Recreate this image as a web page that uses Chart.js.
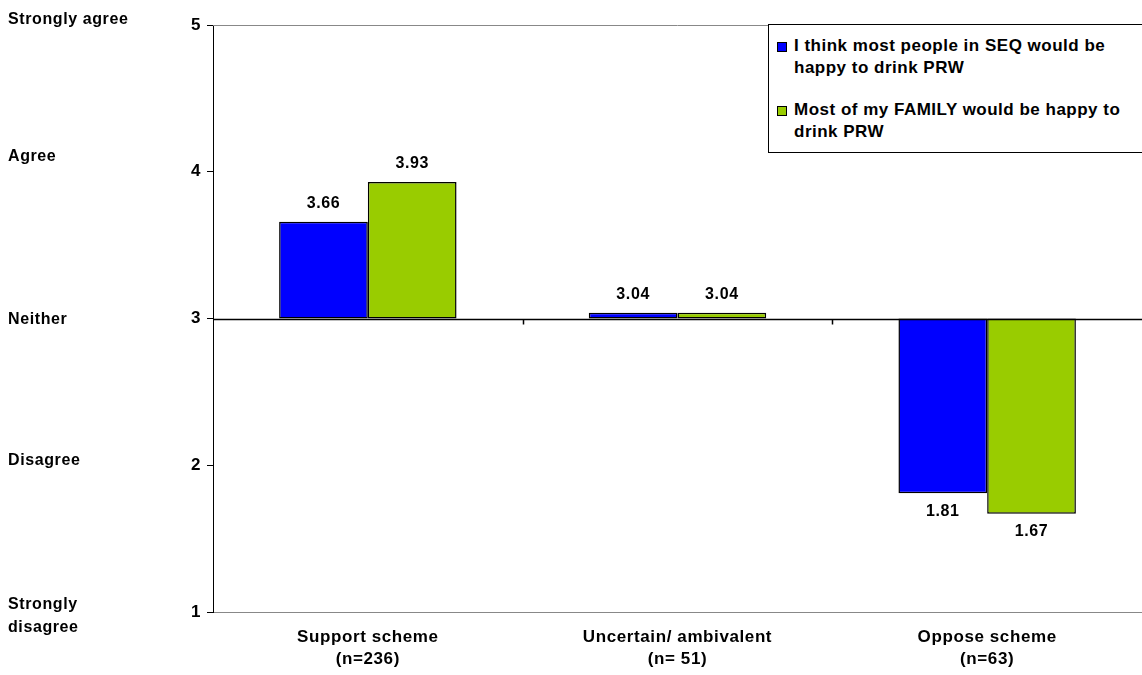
<!DOCTYPE html>
<html>
<head>
<meta charset="utf-8">
<script src="https://cdn.jsdelivr.net/npm/chart.js@4.4.1/dist/chart.umd.min.js"></script>
<style>
    html, body { margin: 0; padding: 0; background: #fff; }
    #wrap { position: relative; width: 1142px; height: 675px; overflow: hidden; }
    #legend {
        position: absolute; left: 768px; top: 24px; width: 400px; height: 129px;
        border: 1px solid #000; background: #fff; box-sizing: border-box;
        font: bold 17px "Liberation Sans", Arial, sans-serif; letter-spacing: 0.5px; color: #000;
    }
    .item { position: absolute; left: 8px; line-height: 22px; padding-left: 17px; width: 345px; }
    .item i {
        position: absolute; left: 0; top: 7px; width: 8px; height: 8px;
        border: 1px solid #000;
    }
</style>
</head>
<body>
<div id="wrap">
    <canvas id="chart" width="1142" height="675"></canvas>
    <div id="legend"></div>
</div>
<script>
const categories  = [["Support scheme", "(n=236)"], ["Uncertain/ ambivalent", "(n= 51)"], ["Oppose scheme", "(n=63)"]];
const seriesNames = ["I think most people in SEQ would be happy to drink PRW", "Most of my FAMILY would be happy to drink PRW"];
const seqValues    = [3.66, 3.04, 1.81];
const familyValues = [3.93, 3.04, 1.67];
const baseline     = 3;
const yTicks       = [1, 2, 3, 4, 5];
const levelLabels  = [["Strongly", "disagree"], ["Disagree"], ["Neither"], ["Agree"], ["Strongly agree"]];

const colors = ["#0000ff", "#99cc00"];
const FONT = "'Liberation Sans', Arial, sans-serif";

// legend (html so the long names can wrap)
const legend = document.getElementById("legend");
const itemTops = [10, 74];
seriesNames.forEach((name, i) => {
    legend.innerHTML += `<div class="item" style="top:${itemTops[i]}px"><i style="background:${colors[i]}"></i>${name}</div>`;
});

const extras = {
    id: "extras",
    beforeUpdate(chart) {
        chart.ctx.letterSpacing = "0.6px";
    },
    afterDatasetsDraw(chart) {
        const ctx = chart.ctx;
        const area = chart.chartArea;
        const x = chart.scales.x;
        const y = chart.scales.y;
        ctx.save();

        // gray frame top
        ctx.strokeStyle = "#888";
        ctx.lineWidth = 1;
        ctx.beginPath();
        ctx.moveTo(area.left, area.top + 0.5);
        ctx.lineTo(area.right, area.top + 0.5);
        ctx.stroke();

        // crossing line at "Neither" with category ticks
        const y3 = Math.round(y.getPixelForValue(baseline)) + 0.5;
        ctx.strokeStyle = "#000";
        ctx.lineWidth = 1.5;
        ctx.beginPath();
        ctx.moveTo(area.left, y3);
        ctx.lineTo(area.right, y3);
        for (let i = 0; i < categories.length - 1; i++) {
            const bx = Math.round((x.getPixelForTick(i) + x.getPixelForTick(i + 1)) / 2) + 0.5;
            ctx.moveTo(bx, y3);
            ctx.lineTo(bx, y3 + 5);
        }
        ctx.stroke();

        // value labels
        ctx.fillStyle = "#000";
        ctx.font = "bold 16px " + FONT;
        ctx.textAlign = "center";
        ctx.textBaseline = "middle";
        chart.data.datasets.forEach((ds, di) => {
            chart.getDatasetMeta(di).data.forEach((bar, i) => {
                const v = ds.values[i];
                const ty = v >= baseline ? Math.min(bar.y, bar.base) - 18 : Math.max(bar.y, bar.base) + 18;
                ctx.fillText(v.toFixed(2), bar.x, ty);
            });
        });

        // agreement level names on the left
        const offsets = [4, -5, 1, -15, -5];
        ctx.font = "bold 16px " + FONT;
        ctx.textAlign = "left";
        levelLabels.forEach((lines, i) => {
            const cy = y.getPixelForValue(yTicks[i]) + offsets[i];
            const start = cy - (lines.length - 1) * 11.5;
            lines.forEach((t, k) => ctx.fillText(t, 8, start + k * 23));
        });

        ctx.restore();
    }
};

new Chart(document.getElementById("chart"), {
    type: "bar",
    data: {
        labels: categories,
        datasets: [
            { label: seriesNames[0], values: seqValues, data: seqValues.map(v => [baseline, v]), backgroundColor: colors[0] },
            { label: seriesNames[1], values: familyValues, data: familyValues.map(v => [baseline, v]), backgroundColor: colors[1] }
        ].map(d => Object.assign(d, { borderColor: "#000", borderWidth: 1.5, borderSkipped: false, categoryPercentage: 0.573, barPercentage: 1 }))
    },
    options: {
        responsive: false,
        animation: false,
        layout: { padding: { top: 25, left: 0, right: 0, bottom: 0 } },
        plugins: { legend: { display: false }, tooltip: { enabled: false } },
        scales: {
            x: {
                afterFit: s => { s.height = 63; },
                grid: { display: true, drawOnChartArea: false, drawTicks: false },
                border: { color: "#888", width: 1 },
                ticks: { color: "#000", padding: 15, font: { family: FONT, size: 17, weight: "bold", lineHeight: 1.25 } }
            },
            y: {
                min: 1,
                max: 5,
                afterFit: s => { s.width = 213; },
                afterBuildTicks: s => { s.ticks = yTicks.map(v => ({ value: v })); },
                grid: { drawOnChartArea: false, tickLength: 6, color: "#000" },
                border: { color: "#000", width: 1 },
                ticks: { color: "#000", padding: 6, font: { family: FONT, size: 17, weight: "bold" } }
            }
        }
    },
    plugins: [extras]
});
</script>
</body>
</html>
